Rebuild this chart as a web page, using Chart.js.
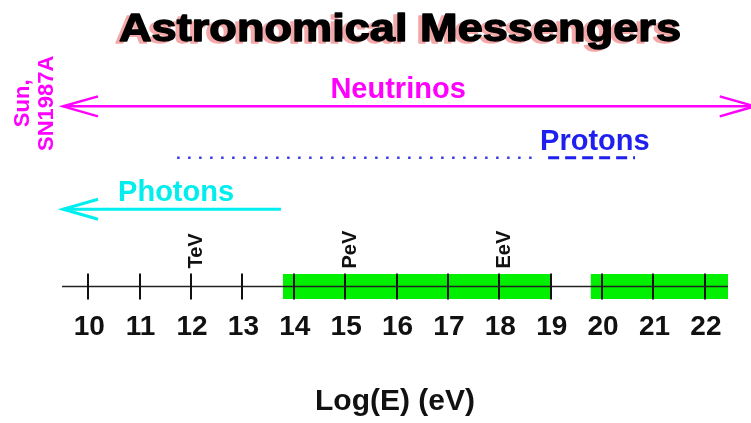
<!DOCTYPE html>
<html>
<head>
<meta charset="utf-8">
<title>Astronomical Messengers</title>
<script src="https://cdn.jsdelivr.net/npm/chart.js@4.4.1/dist/chart.umd.min.js"></script>
<style>
  html, body { margin: 0; padding: 0; background: #fff; }
  #wrap { width: 751px; height: 423px; position: relative; }
</style>
</head>
<body>
<div id="wrap"><canvas id="messengersChart"></canvas></div>
<script>
// energies are log10(E / eV)
const tickValues = [10, 11, 12, 13, 14, 15, 16, 17, 18, 19, 20, 21, 22];
const energyNames = ['TeV', 'PeV', 'EeV'];
const energyLogs = [12, 15, 18];

const messengers = ['Neutrinos', 'Protons', 'Photons'];
const messengerRow = [3.5, 2.5, 1.5];
const labelAt = [16.03, 19.86, 11.71];
const neutrinoRange = [9.51, 22.97];
const protonLimitRange = [11.73, 18.73];
const protonRange = [18.95, 20.64];
const photonRange = [9.51, 13.75];

const axisRange = [9.49, 22.45];
const bandLow = [13.79, 19.0];
const bandHigh = [19.78, 22.45];

const FONT = "'Liberation Sans', Arial, Helvetica, sans-serif";
const MAGENTA = '#ff00ff';
const BLUE = '#1f1ff0';
const CYAN = '#00eeee';
const GREEN = '#00f000';
const labelColors = [MAGENTA, BLUE, CYAN];

const seg = (range, row) => range.map(v => ({ x: v, y: row }));

const lineDefaults = { pointRadius: 0, pointHoverRadius: 0, fill: false, clip: false, tension: 0, borderCapStyle: 'butt' };

const overlay = {
    id: 'overlay',
    afterDatasetsDraw(chart) {
        const { ctx, scales: { x, y } } = chart;
        const y0 = y.getPixelForValue(0);
        ctx.save();

        // tick marks crossing the axis line
        ctx.strokeStyle = '#111';
        ctx.lineWidth = 2;
        x.ticks.forEach(t => {
            const px = Math.round(x.getPixelForValue(t.value));
            ctx.beginPath();
            ctx.moveTo(px, y0 - 13);
            ctx.lineTo(px, y0 + 13);
            ctx.stroke();
        });

        // open arrowheads
        chart.data.datasets.forEach((ds, i) => {
            if (!ds.arrows) return;
            const pts = chart.getDatasetMeta(i).data;
            ctx.strokeStyle = ds.borderColor;
            ctx.lineWidth = ds.borderWidth;
            ds.arrows.forEach(end => {
                const p = end === 'start' ? pts[0] : pts[pts.length - 1];
                const dir = end === 'start' ? 1 : -1;
                ctx.beginPath();
                ctx.moveTo(p.x + dir * 35, p.y - 10);
                ctx.lineTo(p.x, p.y);
                ctx.lineTo(p.x + dir * 35, p.y + 10);
                ctx.stroke();
            });
        });

        // messenger names
        ctx.font = 'bold 29px ' + FONT;
        ctx.textAlign = 'center';
        ctx.textBaseline = 'middle';
        messengers.forEach((name, i) => {
            ctx.fillStyle = labelColors[i];
            ctx.fillText(name, x.getPixelForValue(labelAt[i]), y.getPixelForValue(messengerRow[i]) - 16);
        });

        // Sun, SN1987A (rotated, left of the neutrino arrow)
        ctx.save();
        ctx.translate(x.getPixelForValue(neutrinoRange[0]) - 28, y.getPixelForValue(messengerRow[0]) - 3);
        ctx.rotate(-Math.PI / 2);
        ctx.fillStyle = MAGENTA;
        ctx.font = 'bold 22px ' + FONT;
        ctx.fillText('Sun,', 0, -12);
        ctx.fillText('SN1987A', 0, 12);
        ctx.restore();

        // TeV / PeV / EeV above the axis
        ctx.font = 'bold 20px ' + FONT;
        ctx.fillStyle = '#111';
        ctx.textAlign = 'left';
        ctx.textBaseline = 'alphabetic';
        energyNames.forEach((name, i) => {
            ctx.save();
            ctx.translate(x.getPixelForValue(energyLogs[i]) + 11, y0 - 18);
            ctx.rotate(-Math.PI / 2);
            ctx.fillText(name, 0, 0);
            ctx.restore();
        });

        ctx.restore();
    },
    afterDraw(chart) {
        const ctx = chart.ctx;
        const text = 'Astronomical Messengers';
        ctx.save();
        ctx.font = 'bold 39px ' + FONT;
        ctx.textAlign = 'center';
        ctx.textBaseline = 'alphabetic';
        const w = ctx.measureText(text).width;
        const sx = 562 / w;
        ctx.translate(400, 41);
        ctx.scale(sx, 1);
        ctx.lineJoin = 'round';
        ctx.lineWidth = 1.4;
        ctx.fillStyle = ctx.strokeStyle = '#f4a8a8';
        ctx.fillText(text, -4 / sx, 2);
        ctx.strokeText(text, -4 / sx, 2);
        ctx.fillStyle = ctx.strokeStyle = '#000';
        ctx.fillText(text, 0, 0);
        ctx.strokeText(text, 0, 0);
        ctx.restore();
    }
};

new Chart(document.getElementById('messengersChart'), {
    type: 'line',
    data: {
        datasets: [
            { ...lineDefaults, label: messengers[0], data: seg(neutrinoRange, messengerRow[0]), borderColor: MAGENTA, borderWidth: 2.5, arrows: ['start', 'end'] },
            { ...lineDefaults, label: 'Protons (limits)', data: seg(protonLimitRange, messengerRow[1]), borderColor: '#3c3ce6', borderWidth: 2.5, borderDash: [2.5, 8.5] },
            { ...lineDefaults, label: messengers[1], data: seg(protonRange, messengerRow[1]), borderColor: BLUE, borderWidth: 3, borderDash: [11, 6] },
            { ...lineDefaults, label: messengers[2], data: seg(photonRange, messengerRow[2]), borderColor: CYAN, borderWidth: 3, arrows: ['start'] },
            { ...lineDefaults, label: 'axis', data: seg(axisRange, 0), borderColor: '#222', borderWidth: 1.5 },
            { ...lineDefaults, label: 'band', data: seg(bandLow, 0), borderColor: GREEN, borderWidth: 25 },
            { ...lineDefaults, label: 'band2', data: seg(bandHigh, 0), borderColor: GREEN, borderWidth: 25 }
        ]
    },
    options: {
        responsive: true,
        maintainAspectRatio: false,
        animation: false,
        events: [],
        layout: { padding: { left: 62, right: 23, top: 60, bottom: 0 } },
        plugins: {
            legend: { display: false },
            tooltip: { enabled: false },
            title: { display: false }
        },
        scales: {
            x: {
                type: 'linear',
                position: 'bottom',
                min: axisRange[0],
                max: axisRange[1],
                afterBuildTicks: s => { s.ticks = tickValues.map(v => ({ value: v })); },
                grid: { display: false, drawTicks: false },
                border: { display: false },
                ticks: {
                    autoSkip: false,
                    maxRotation: 0,
                    includeBounds: false,
                    padding: 10,
                    labelOffset: 1,
                    color: '#111',
                    font: { family: FONT, size: 28, weight: 'bold' },
                    callback: v => String(v)
                },
                title: {
                    display: true,
                    text: 'Log(E) (eV)',
                    color: '#111',
                    font: { family: FONT, size: 30, weight: 'bold' },
                    padding: { top: 30, bottom: 3 }
                }
            },
            y: {
                type: 'linear',
                display: false,
                min: -0.27,
                max: 4.4
            }
        }
    },
    plugins: [overlay]
});
</script>
</body>
</html>
